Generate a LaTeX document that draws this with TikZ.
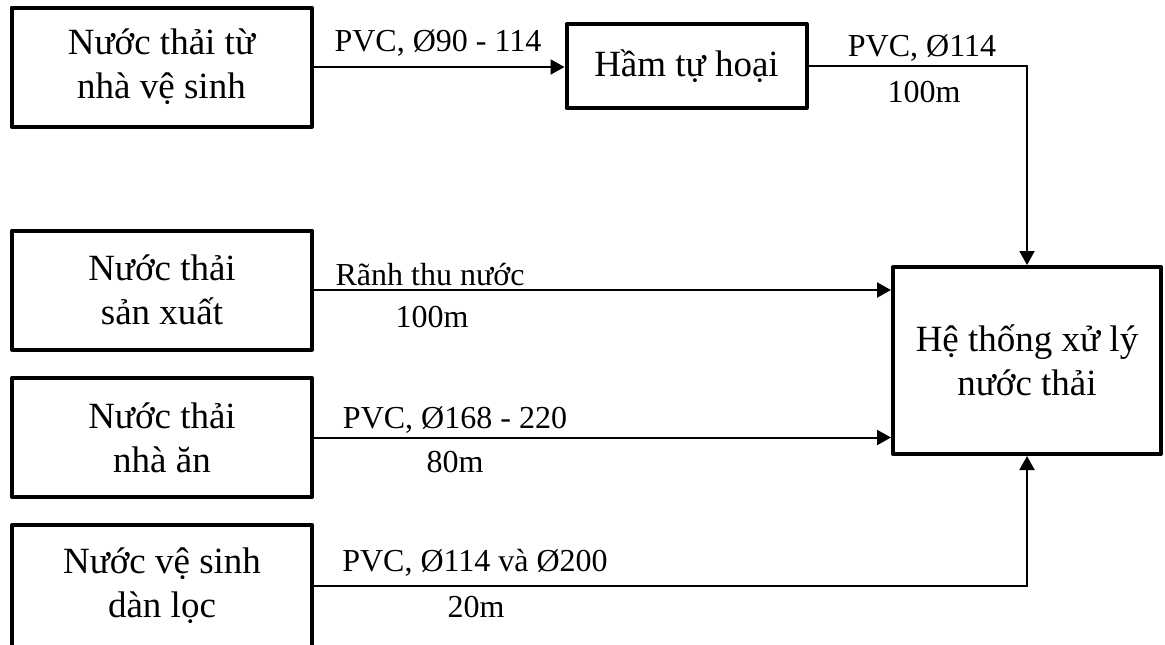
\documentclass[tikz,border=0pt]{standalone}
\usepackage{fontspec}
\setmainfont{Liberation Serif}
\usetikzlibrary{arrows.meta,positioning}

\begin{document}
\begin{tikzpicture}[
  x=0.5pt,y=-0.5pt,
  box/.style={draw,line width=2pt,line join=round,align=center,inner sep=2pt,
    font=\fontsize{18.5}{22}\selectfont},
  src/.style={box,minimum width=150pt,minimum height=59.5pt},
  lbl/.style={font=\fontsize{16}{19}\selectfont,inner sep=0pt},
  ptr/.style={-{Triangle[length=7pt,width=7.5pt]},line width=1pt},
]
\useasboundingbox (0,0) rectangle (1165,644);
% nguon nuoc thai
\node[src] (wc)   at (161.5,67)  {Nước thải từ\\nhà vệ sinh};
\node[src] (sx)   at (162,290)   {Nước thải\\sản xuất};
\node[src] (an)   at (162,437.5) {Nước thải\\nhà ăn};
\node[src,minimum height=61pt] (loc) at (162,586) {Nước vệ sinh\\dàn lọc};
\node[box,minimum width=120pt,minimum height=42pt] (ham) at (686.5,66) {Hầm tự hoại};
\node[box,minimum width=134pt,minimum height=93.5pt] (xuly) at (1027,360.5)
  {Hệ thống xử lý\\nước thải};
% duong ong
\draw[ptr] (wc.east) -- (wc.east -| ham.west);
\draw[ptr] (ham.east) -| (xuly.north);
\draw[ptr] (sx.east) -- (sx.east -| xuly.west);
\draw[ptr] (an.east) -- (an.east -| xuly.west);
\draw[ptr] (loc.east) -| (xuly.south);
% nhan
\node[lbl] (l1)  at (438,43)  {PVC, Ø90 - 114};
\node[lbl] (l2)  at (922,48)  {PVC, Ø114};
\node[lbl] (l2b) at (924,92)  {100m};
\node[lbl] (l3)  at (430,275) {Rãnh thu nước};
\node[lbl] (l3b) at (432,317) {100m};
\node[lbl] (l4)  at (455,420) {PVC, Ø168 - 220};
\node[lbl] (l4b) at (455,462) {80m};
\node[lbl] (l5)  at (475,563) {PVC, Ø114 và Ø200};
\node[lbl] (l5b) at (476,607) {20m};
\end{tikzpicture}
\end{document}
